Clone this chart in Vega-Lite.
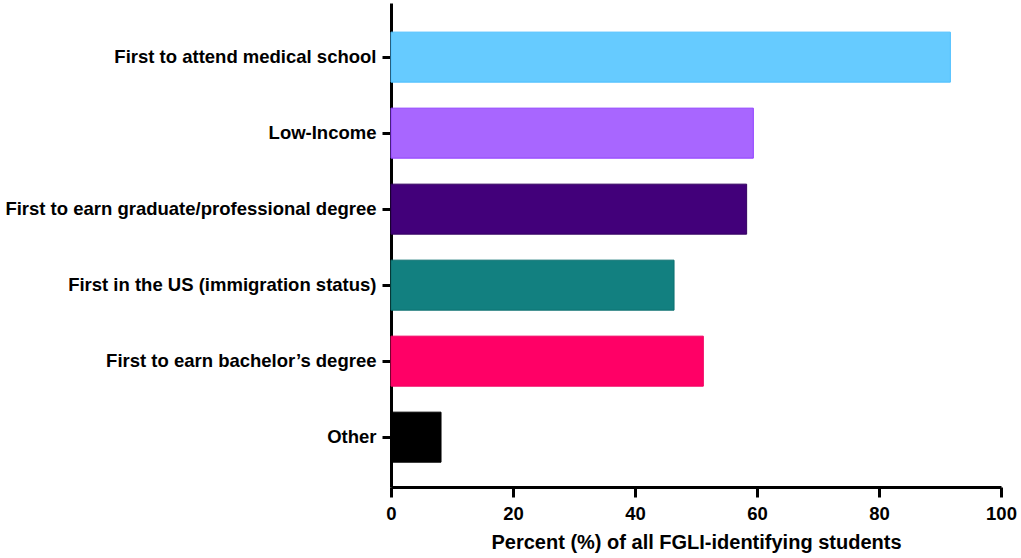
{
  "$schema": "https://vega.github.io/schema/vega-lite/v6.json",
  "width": 610,
  "height": 484,
  "autosize": "none",
  "padding": {"left": 391, "top": 3, "right": 20, "bottom": 71},
  "background": "white",
  "config": {
    "view": {"stroke": null},
    "font": "Liberation Sans",
    "axis": {
      "domainColor": "black",
      "domainWidth": 3,
      "tickColor": "black",
      "tickWidth": 3,
      "labelColor": "black",
      "labelFont": "Liberation Sans",
      "labelFontWeight": "bold",
      "labelFontSize": 18.5,
      "labelLimit": 0,
      "titleFont": "Liberation Sans",
      "titleFontWeight": "bold",
      "titleFontSize": 20,
      "titleColor": "black",
      "grid": false
    }
  },
  "data": {
    "values": [
      {"category": "First to attend medical school", "percent": 91.7},
      {"category": "Low-Income", "percent": 59.4},
      {"category": "First to earn graduate/professional degree", "percent": 58.3},
      {"category": "First in the US (immigration status)", "percent": 46.4},
      {"category": "First to earn bachelor’s degree", "percent": 51.2},
      {"category": "Other", "percent": 8.2}
    ]
  },
  "mark": {"type": "bar", "strokeWidth": 1},
  "encoding": {
    "y": {
      "field": "category",
      "type": "nominal",
      "sort": null,
      "title": null,
      "scale": {"paddingInner": 0.342, "paddingOuter": 0.355, "align": 0.54},
      "axis": {"tickSize": 9, "labelPadding": 6}
    },
    "x": {
      "field": "percent",
      "type": "quantitative",
      "title": "Percent (%) of all FGLI-identifying students",
      "scale": {"domain": [0, 100], "nice": false},
      "axis": {"values": [0, 20, 40, 60, 80, 100], "tickSize": 10, "labelPadding": 7, "labelFlush": false, "titlePadding": 10}
    },
    "fill": {
      "field": "category",
      "type": "nominal",
      "legend": null,
      "scale": {
        "domain": ["First to attend medical school", "Low-Income", "First to earn graduate/professional degree", "First in the US (immigration status)", "First to earn bachelor’s degree", "Other"],
        "range": ["#66CBFF", "#A866FF", "#42007A", "#128080", "#FF0066", "#000000"]
      }
    },
    "stroke": {
      "field": "category",
      "type": "nominal",
      "legend": null,
      "scale": {
        "domain": ["First to attend medical school", "Low-Income", "First to earn graduate/professional degree", "First in the US (immigration status)", "First to earn bachelor’s degree", "Other"],
        "range": ["#4DBFFF", "#9040FF", "#330060", "#0C7070", "#F00060", "#000000"]
      }
    }
  }
}
